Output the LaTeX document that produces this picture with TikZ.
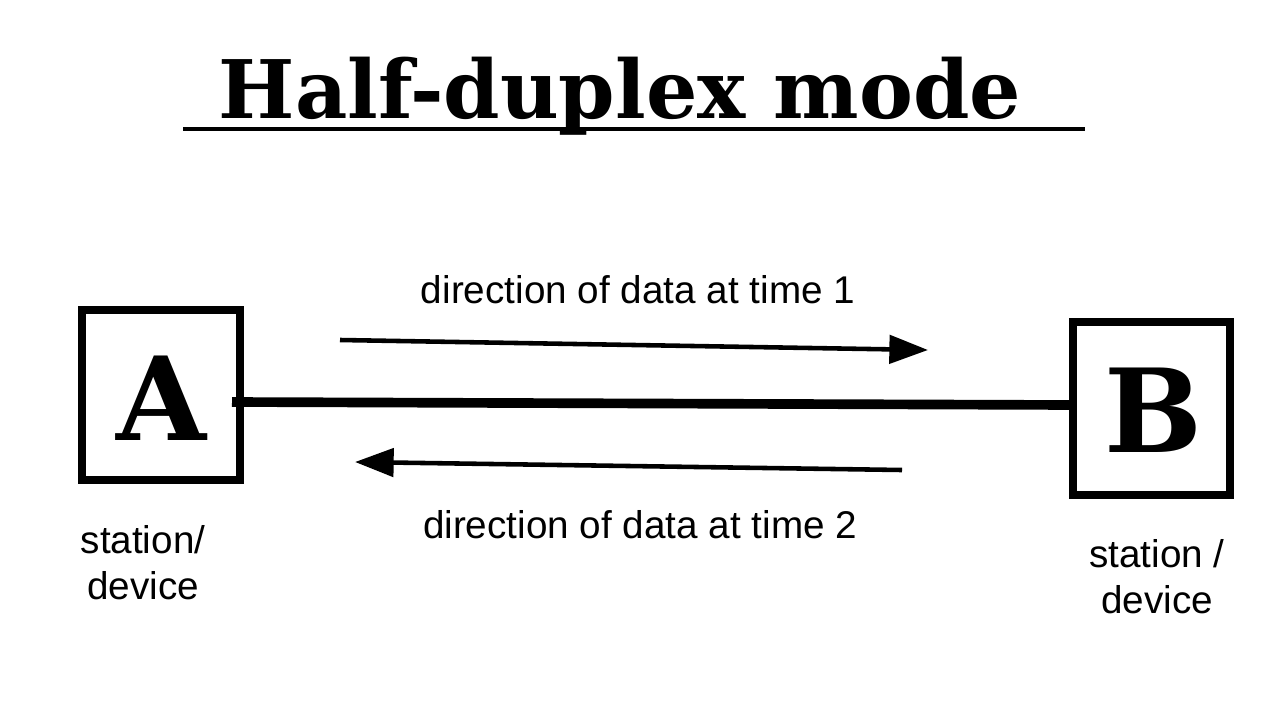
\documentclass[tikz,border=0pt]{standalone}
\usepackage{fontspec}
\setmainfont{Liberation Sans}
\newfontfamily\titlefont{DejaVu Serif}
\usetikzlibrary{arrows.meta}
\begin{document}
\begin{tikzpicture}[x=0.02cm,y=-0.02cm,
  boxst/.style={draw,line width=4.5pt,minimum width=148\pgflinewidth,inner sep=0pt},
  lbl/.style={font=\fontsize{22}{26}\selectfont},
  arr/.style={line width=2.6pt,-{Triangle[length=22pt,width=16pt]}}]
\useasboundingbox (0,0) rectangle (1280,720);
\node[font=\titlefont\bfseries\fontsize{46}{50}\selectfont,anchor=base] (t) at (620,118) {Half-duplex mode};
\draw[line width=2pt] (183,129) -- (1085,129);
\draw[line width=4.5pt] (82,310) rectangle (240,480);
\draw[line width=4.5pt] (1073,322) rectangle (1230,495);
\node[font=\titlefont\bfseries\fontsize{66}{70}\selectfont] (A) at (161,398) {A};
\node[font=\titlefont\bfseries\fontsize{66}{70}\selectfont] (B) at (1153,410) {B};
\coordinate (a) at (232,402);
\coordinate (b) at (1073,405);
\draw[line width=5.5pt] (a) -- (b);
\coordinate (p1) at (340,340); \coordinate (q1) at (928,350);
\coordinate (p2) at (902,470); \coordinate (q2) at (355,462);
\draw[arr] (p1) -- (q1);
\draw[arr] (p2) -- (q2);
\node[lbl] (l1) at (638,290) {direction of data at time 1};
\node[lbl] (l2) at (640,525) {direction of data at time 2};
\node[lbl,align=center] (sa) at (143,563) {station/\\device};
\node[lbl,align=center] (sb) at (1157,577) {station /\\device};
\end{tikzpicture}
\end{document}
